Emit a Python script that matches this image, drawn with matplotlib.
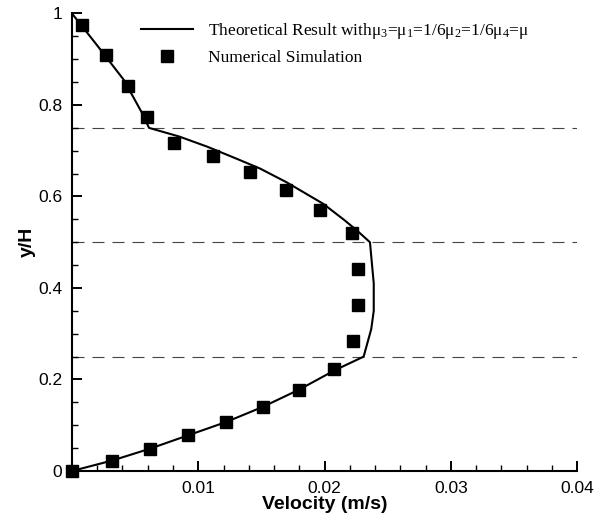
import numpy as np
import matplotlib.pyplot as plt
from matplotlib.ticker import MultipleLocator

plt.rcParams['mathtext.fontset'] = 'custom'
plt.rcParams['mathtext.rm'] = 'Liberation Serif'
plt.rcParams['mathtext.it'] = 'Liberation Serif:italic'

# theoretical profile (piecewise over the four layers)
u_theory = [0.0, 0.0032, 0.0062, 0.0092, 0.0122, 0.0151, 0.0180, 0.0208, 0.0231,
            0.0234, 0.0237, 0.0239, 0.0239, 0.0239, 0.0238, 0.0237, 0.0236,
            0.0226, 0.0215, 0.0199, 0.0170, 0.0149, 0.0130, 0.0107, 0.0085, 0.0061,
            0.0055, 0.0041, 0.0020, 0.0]
y_theory = [0.0, 0.023, 0.049, 0.078, 0.107, 0.140, 0.178, 0.220, 0.250,
            0.280, 0.310, 0.350, 0.380, 0.410, 0.440, 0.470, 0.500,
            0.525, 0.550, 0.584, 0.631, 0.661, 0.683, 0.709, 0.731, 0.750,
            0.785, 0.855, 0.930, 1.0]

# numerical simulation
u_sim = [0.0, 0.0032, 0.00618, 0.00921, 0.01217, 0.0151, 0.0180, 0.02078, 0.02228,
         0.02262, 0.02262, 0.02215, 0.01964, 0.01695, 0.0141, 0.01114, 0.0081,
         0.00597, 0.00441, 0.00269, 0.00082]
y_sim = [0.0, 0.0225, 0.048, 0.078, 0.107, 0.1404, 0.178, 0.222, 0.2838,
         0.3624, 0.4425, 0.5204, 0.570, 0.615, 0.6535, 0.688, 0.718,
         0.773, 0.842, 0.909, 0.975]

interfaces = [0.25, 0.5, 0.75]

fig = plt.figure(figsize=(6.03, 5.19), dpi=100)
ax = fig.add_axes([0.1194, 0.0925, 0.8375, 0.8815])

for yi in interfaces:
    ax.plot([0, 0.04], [yi, yi], color='#444444', lw=0.8,
            linestyle=(0, (10.8, 7.2)), zorder=1)

ax.plot(u_theory, y_theory, color='black', lw=1.5, zorder=3,
        label=r'Theoretical Result with$\mathrm{\mu_3}$=$\mathrm{\mu_1}$=1/6$\mathrm{\mu_2}$=1/6$\mathrm{\mu_4}$=$\mathrm{\mu}$')
ax.plot(u_sim, y_sim, linestyle='none', marker='s', markersize=9,
        color='black', zorder=4, clip_on=False, label='Numerical Simulation')

ax.set_xlim(0, 0.04)
ax.set_ylim(0, 1)
ax.set_xticks([0.01, 0.02, 0.03, 0.04])
ax.set_xticklabels(['0.01', '0.02', '0.03', '0.04'])
ax.set_yticks([0, 0.2, 0.4, 0.6, 0.8, 1.0])
ax.set_yticklabels(['0', '0.2', '0.4', '0.6', '0.8', '1'])
ax.xaxis.set_minor_locator(MultipleLocator(0.002))
ax.yaxis.set_minor_locator(MultipleLocator(0.05))

ax.tick_params(which='major', direction='in', length=7, width=1.4,
               labelsize=12.5, pad=7)
ax.tick_params(which='minor', direction='in', length=4, width=1.0)
for lab in ax.get_xticklabels() + ax.get_yticklabels():
    lab.set_family('Liberation Sans')

for side in ['top', 'right']:
    ax.spines[side].set_visible(False)
for side in ['left', 'bottom']:
    ax.spines[side].set_linewidth(1.5)

ax.set_xlabel('Velocity (m/s)', fontsize=14, fontweight='bold',
              family='Liberation Sans', labelpad=0)
ax.set_ylabel('y/H', fontsize=14, fontweight='bold',
              family='Liberation Sans', labelpad=2)

ax.legend(loc='upper left', bbox_to_anchor=(0.105, 1.0175), frameon=False,
          numpoints=1, handlelength=3.0, handletextpad=0.86, labelspacing=0.53,
          prop={'family': 'Liberation Serif', 'size': 12.5})

fig.savefig('out.png', dpi=100)
